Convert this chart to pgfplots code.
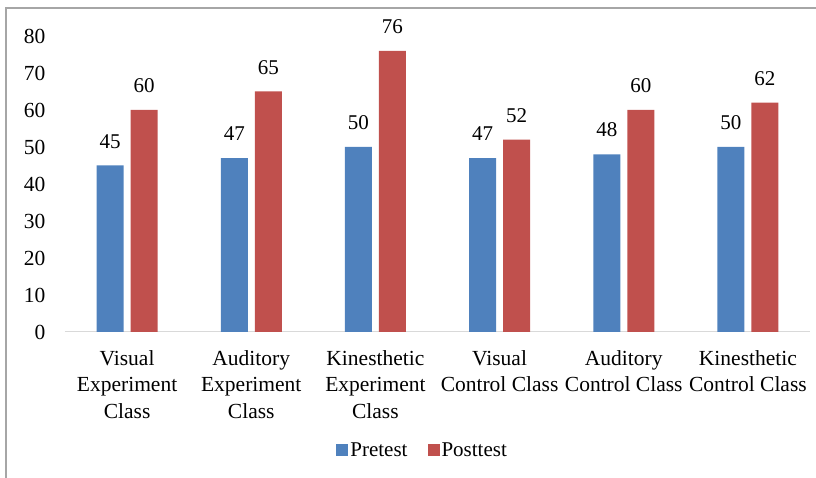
\documentclass[border=0pt]{standalone}
\usepackage{pgfplots}
\pgfplotsset{compat=1.18}
\usepackage{fontspec}
\setmainfont{Liberation Serif}
\definecolor{preblue}{HTML}{4F81BD}
\definecolor{postred}{HTML}{C0504D}
\definecolor{framegray}{HTML}{A6A6A6}
\definecolor{basegray}{HTML}{D9D9D9}
\begin{document}
\begin{tikzpicture}
\useasboundingbox (0,0) rectangle (816pt,478pt);
\draw[framegray, line width=1.2pt] (6pt,0) -- (6pt,470pt) -- (816pt,470pt);
\begin{axis}[
  at={(65pt,146pt)}, anchor=south west,
  scale only axis, width=745pt, height=296pt,
  ybar=7pt, bar width=27pt,
  xmin=-0.5, xmax=5.5, ymin=0, ymax=80,
  ytick={0,10,...,80},
  xtick=data,
  xticklabels={{Visual\\Experiment\\Class},{Auditory\\Experiment\\Class},{Kinesthetic\\Experiment\\Class},{Visual\\Control Class},{Auditory\\Control Class},{Kinesthetic\\Control Class}},
  axis x line*=bottom, axis y line*=left,
  x axis line style={basegray, line width=1pt},
  y axis line style={draw=none},
  major tick length=0pt,
  /pgf/number format/assume math mode=true,
  yticklabel style={font=\fontsize{21.5}{25}\selectfont, anchor=east, xshift=-16pt},
  xticklabel style={font=\fontsize{21.5}{26.5}\selectfont, align=center, yshift=-15pt},
  nodes near coords,
  every node near coord/.append style={font=\fontsize{21}{25}\selectfont, inner sep=0pt, yshift=17pt, anchor=south, black},
  legend style={at={(0.48,-0.399)}, anchor=center, draw=none, legend columns=2, font=\fontsize{21}{25}\selectfont, /tikz/every even column/.append style={column sep=18pt}},
  legend image code/.code={\fill[#1] (0pt,-6pt) rectangle (12pt,6pt);},
  clip=false,
]
\addplot[fill=preblue, draw=none] coordinates {(0,45) (1,47) (2,50) (3,47) (4,48) (5,50)};
\addplot[fill=postred, draw=none] coordinates {(0,60) (1,65) (2,76) (3,52) (4,60) (5,62)};
\legend{Pretest, Posttest}
\end{axis}
\end{tikzpicture}
\end{document}
